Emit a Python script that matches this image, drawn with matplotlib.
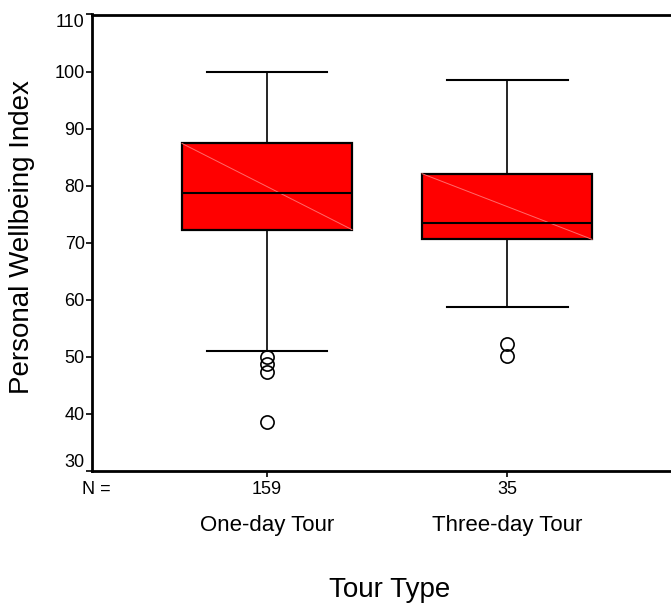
import matplotlib
matplotlib.use('Agg')
import matplotlib.pyplot as plt

plt.rcParams['font.family'] = ['Liberation Sans', 'DejaVu Sans']

# Summary statistics per tour type
groups = ['One-day Tour', 'Three-day Tour']
counts = [159, 35]
q1 = [72.3, 70.6]
medians = [78.8, 73.5]
q3 = [87.4, 82.1]
whisker_low = [51.1, 58.7]
whisker_high = [100.0, 98.6]
outliers = [[50.0, 48.7, 47.4, 38.6], [52.3, 50.1]]
y_ticks = [30, 40, 50, 60, 70, 80, 90, 100, 110]

positions = [1, 2]
box_width = 0.708
cap_width = 0.504

W, H = 671, 603
fig = plt.figure(figsize=(W / 100, H / 100), dpi=100)
ax = fig.add_axes([92 / W, (H - 471) / H, 579 / W, (471 - 14.5) / H])

stats = []
for i in range(len(groups)):
    stats.append(dict(med=medians[i], q1=q1[i], q3=q3[i],
                      whislo=whisker_low[i], whishi=whisker_high[i],
                      fliers=outliers[i], label=groups[i]))

ax.bxp(stats, positions=positions, widths=box_width, capwidths=cap_width,
       patch_artist=True, showfliers=True,
       boxprops=dict(facecolor='#ff0000', edgecolor='black', linewidth=1.6, zorder=2),
       medianprops=dict(color='black', linewidth=1.5, zorder=4),
       whiskerprops=dict(color='black', linewidth=1.2),
       capprops=dict(color='black', linewidth=1.5),
       flierprops=dict(marker='o', markerfacecolor='none', markeredgecolor='black',
                       markersize=9.5, markeredgewidth=1.2))

# faint diagonal across each box fill
for p, lo, hi in zip(positions, q1, q3):
    ax.plot([p - box_width / 2, p + box_width / 2], [hi, lo],
            color='#ff6a6a', linewidth=0.7, zorder=3)

ax.set_xlim(0.271, 2.683)
ax.set_ylim(30, 110)

ax.spines['right'].set_visible(False)
for s in ('left', 'bottom', 'top'):
    ax.spines[s].set_linewidth(2)

ax.set_yticks(y_ticks)
ax.set_yticklabels([str(t) for t in y_ticks])
ax.tick_params(axis='y', direction='out', length=4.3, width=1.2, pad=1, labelsize=13)
ax.set_xticks(positions)
ax.set_xticklabels(['' for _ in positions])
ax.tick_params(axis='x', direction='out', length=4, width=1.2)

ylabels = ax.get_yticklabels()
ylabels[0].set_verticalalignment('bottom')
ylabels[-1].set_verticalalignment('top')

fig.text(96 / W, 1 - 490 / H, 'N =', ha='center', va='center', fontsize=13)
for p, n, g in zip(positions, counts, groups):
    ax.annotate(str(n), xy=(p, 0), xycoords=('data', 'axes fraction'),
                xytext=(0, -19), textcoords='offset pixels',
                ha='center', va='center', fontsize=13)
    ax.annotate(g, xy=(p, 0), xycoords=('data', 'axes fraction'),
                xytext=(0, -55), textcoords='offset pixels',
                ha='center', va='center', fontsize=16)

fig.text(390 / W, 1 - 590 / H, 'Tour Type', ha='center', va='center', fontsize=20)
fig.text(22 / W, 1 - 237 / H, 'Personal Wellbeing Index', ha='center', va='center',
         rotation=90, fontsize=20)

fig.savefig('out.png', dpi=100)
